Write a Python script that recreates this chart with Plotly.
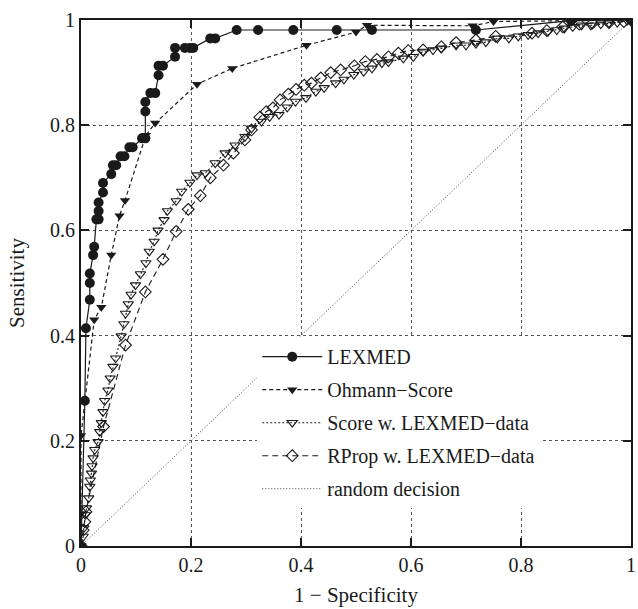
import plotly.graph_objects as go

# ---------------- data ----------------
lexmed_x = [0, 0.007, 0.009, 0.016, 0.016, 0.016, 0.022, 0.024, 0.028, 0.032, 0.032, 0.032,
            0.040, 0.040, 0.055, 0.058, 0.064, 0.072, 0.079, 0.088, 0.094, 0.111, 0.117,
            0.117, 0.117, 0.126, 0.135, 0.141, 0.141, 0.149, 0.171, 0.171, 0.189, 0.198,
            0.204, 0.235, 0.244, 0.283, 0.322, 0.386, 0.465, 0.529, 0.718, 0.891, 1.0]
lexmed_y = [0, 0.276, 0.414, 0.468, 0.500, 0.518, 0.553, 0.569, 0.621, 0.621, 0.637, 0.653,
            0.672, 0.690, 0.707, 0.724, 0.724, 0.741, 0.741, 0.758, 0.758, 0.775, 0.775,
            0.826, 0.844, 0.861, 0.861, 0.895, 0.913, 0.913, 0.930, 0.947, 0.947, 0.947,
            0.947, 0.965, 0.965, 0.981, 0.981, 0.981, 0.981, 0.981, 0.981, 0.999, 1.0]

ohmann_x = [0, 0, 0, 0.024, 0.037, 0.055, 0.070, 0.080, 0.118, 0.135, 0.211, 0.275,
            0.410, 0.500, 0.520, 0.712, 0.750, 1.0]
ohmann_y = [0, 0.062, 0.210, 0.430, 0.454, 0.553, 0.628, 0.657, 0.781, 0.804, 0.878, 0.908,
            0.952, 0.977, 0.990, 0.989, 0.997, 1.0]

score_x = [0, 0.004, 0.005, 0.008, 0.010, 0.014, 0.016, 0.017, 0.019, 0.020, 0.022, 0.025,
           0.031, 0.034, 0.037, 0.040, 0.043, 0.049, 0.053, 0.058, 0.063, 0.073, 0.078,
           0.081, 0.086, 0.091, 0.099, 0.108, 0.118, 0.124, 0.133, 0.140, 0.151, 0.157,
           0.173, 0.183, 0.198, 0.211, 0.226, 0.244, 0.262, 0.280, 0.298, 0.310, 0.328,
           0.343, 0.360, 0.375, 0.390, 0.409, 0.427, 0.442, 0.463, 0.478, 0.496, 0.514,
           0.529, 0.547, 0.559, 0.586, 0.604, 0.622, 0.640, 0.655, 0.682, 0.700, 0.718,
           0.736, 0.757, 0.778, 0.795, 0.813, 0.831, 0.849, 0.865, 0.879, 0.894, 0.910,
           0.927, 0.945, 0.960, 0.975, 0.993, 1.0]
score_y = [0, 0.018, 0.034, 0.059, 0.072, 0.091, 0.113, 0.125, 0.138, 0.152, 0.167, 0.183,
           0.198, 0.217, 0.234, 0.255, 0.276, 0.296, 0.319, 0.341, 0.357, 0.399, 0.422,
           0.442, 0.460, 0.478, 0.496, 0.517, 0.538, 0.560, 0.579, 0.600, 0.620, 0.637,
           0.656, 0.674, 0.691, 0.705, 0.709, 0.728, 0.747, 0.762, 0.778, 0.794, 0.807,
           0.816, 0.820, 0.834, 0.845, 0.852, 0.864, 0.871, 0.880, 0.887, 0.896, 0.902,
           0.908, 0.918, 0.920, 0.927, 0.930, 0.940, 0.943, 0.946, 0.952, 0.952, 0.955,
           0.958, 0.965, 0.965, 0.969, 0.972, 0.975, 0.978, 0.981, 0.984, 0.987, 0.990,
           0.990, 0.992, 0.994, 0.995, 0.999, 1.0]

rprop_x = [0, 0.004, 0.007, 0.009, 0.041, 0.081, 0.117, 0.149, 0.173, 0.195, 0.217, 0.235,
           0.259, 0.277, 0.298, 0.310, 0.325, 0.337, 0.349, 0.362, 0.377, 0.391, 0.406,
           0.419, 0.436, 0.454, 0.472, 0.497, 0.517, 0.538, 0.559, 0.577, 0.595, 0.622,
           0.655, 0.682, 0.718, 0.754, 0.820, 0.847, 0.876, 0.906, 0.930, 0.960, 0.987, 1.0]
rprop_y = [0, 0.030, 0.046, 0.065, 0.227, 0.382, 0.483, 0.545, 0.598, 0.640, 0.666, 0.700,
           0.724, 0.747, 0.772, 0.791, 0.815, 0.826, 0.833, 0.848, 0.859, 0.868, 0.876,
           0.880, 0.890, 0.900, 0.905, 0.913, 0.921, 0.925, 0.930, 0.937, 0.942, 0.943,
           0.949, 0.957, 0.962, 0.969, 0.975, 0.980, 0.987, 0.992, 0.994, 0.995, 0.997, 1.0]

random_x = [0, 1]
random_y = [0, 1]

tick_vals = [0, 0.2, 0.4, 0.6, 0.8, 1]
tick_text = ["0", "0.2", "0.4", "0.6", "0.8", "1"]

# ---------------- figure ----------------
FONT = "Liberation Serif, Times New Roman, serif"
INK = "#1a1a1a"

fig = go.Figure()

fig.add_trace(go.Scatter(
    x=lexmed_x, y=lexmed_y, name="LEXMED", mode="lines+markers", legendgroup="a",
    line=dict(color=INK, width=1.2),
    marker=dict(symbol="circle", size=10, color=INK)))

fig.add_trace(go.Scatter(
    x=ohmann_x, y=ohmann_y, name="Ohmann\u2212Score", mode="lines+markers", legendgroup="b",
    line=dict(color=INK, width=1.2, dash="4px,3px"),
    marker=dict(symbol="triangle-down", size=9, color=INK)))

fig.add_trace(go.Scatter(
    x=score_x, y=score_y, name="Score w. LEXMED\u2212data", mode="lines+markers", legendgroup="c",
    line=dict(color=INK, width=1.1, dash="2px,2px"),
    marker=dict(symbol="triangle-down-open", size=9, color=INK, line=dict(width=1.1))))

fig.add_trace(go.Scatter(
    x=rprop_x, y=rprop_y, name="RProp w. LEXMED\u2212data", mode="lines+markers", legendgroup="d",
    line=dict(color=INK, width=1.1, dash="6px,4px"),
    marker=dict(symbol="diamond-open", size=9, color=INK, line=dict(width=1.1))))

fig.add_trace(go.Scatter(
    x=random_x, y=random_y, name="random decision", mode="lines", legendgroup="e",
    line=dict(color="#444444", width=1, dash="1px,2px")))

axis_common = dict(
    range=[0, 1],
    tickvals=tick_vals, ticktext=tick_text,
    ticks="inside", ticklen=8, tickwidth=1.5, tickcolor=INK,
    showline=True, linewidth=2, linecolor=INK, mirror="ticks",
    showgrid=True, gridcolor="#555555", gridwidth=1, griddash="dot",
    zeroline=False,
    tickfont=dict(family=FONT, size=20, color=INK),
    ticklabeloverflow="allow",
    automargin=False,
)

fig.update_layout(
    width=638, height=609,
    margin=dict(l=81, r=7, t=20, b=63),
    paper_bgcolor="white", plot_bgcolor="white",
    font=dict(family=FONT, size=20, color=INK),
    xaxis=dict(**axis_common,
               title=dict(text="1 \u2212 Specificity", font=dict(family=FONT, size=21),
                          standoff=12)),
    yaxis=dict(**axis_common,
               title=dict(text="Sensitivity", font=dict(family=FONT, size=21),
                          standoff=20)),
    legend=dict(
        x=0.835, y=0.397, xanchor="right", yanchor="top",
        bgcolor="white", borderwidth=0,
        font=dict(family=FONT, size=20, color=INK),
        itemwidth=60, tracegroupgap=4,
    ),
    showlegend=True,
)

fig.write_html("out.html", config={"displayModeBar": False},
               post_script="document.body.style.margin='0px';")
